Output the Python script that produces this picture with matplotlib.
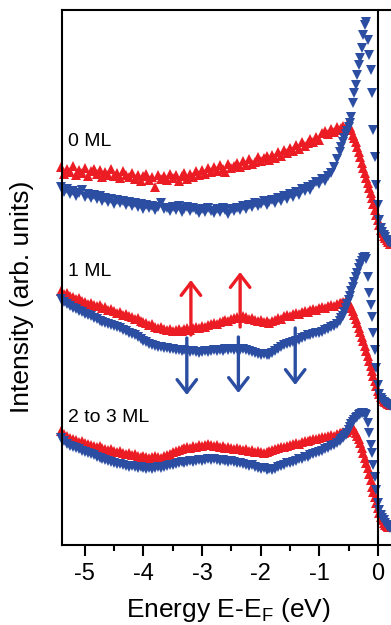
import numpy as np
import matplotlib
matplotlib.use("Agg")
import matplotlib.pyplot as plt

plt.rcParams['font.family'] = ['Liberation Sans', 'DejaVu Sans']
plt.rcParams['axes.unicode_minus'] = False

RED = '#EC1C24'
BLUE = '#2B4EA2'

# energy grid (eV): 0.05 steps far from E_F, 0.025 steps near the peak
energy = np.round(np.r_[np.arange(-5.40, -0.64, 0.05), np.arange(-0.625, 0.201, 0.025)], 3)

# intensities, arb. units (red = up triangles, blue = down triangles)
ml0_red = [378, 371, 376, 373, 379, 370, 375, 372, 377, 369, 374, 376,
           371, 375, 368, 373, 370, 376, 369, 372, 367, 374, 370, 368,
           372, 366, 370, 364, 369, 371, 365, 368, 358, 370, 366, 369,
           365, 371, 367, 370, 364, 369, 372, 366, 371, 368, 374, 370,
           375, 371, 377, 373, 378, 374, 380, 376, 373, 381, 377, 379,
           382, 378, 384, 380, 386, 381, 383, 388, 384, 387, 389, 385,
           390, 387, 393, 389, 395, 392, 397, 394, 400, 396, 403, 399,
           402, 406, 403, 408, 405, 412, 414, 411, 416, 413, 418, 415,
           417, 419, 416, 418, 420, 417, 418, 415, 410, 407, 403, 398,
           393, 388, 382, 377, 372, 367, 362, 357, 352, 347, 341, 335,
           330, 325, 320, 315, 312, 309, 307, 305, 303, 301]
ml0_blue = [358, 353, 356, 351, 354, 349, 352, 355, 348, 351, 347, 350,
            346, 349, 344, 347, 343, 346, 341, 345, 342, 344, 340, 343,
            339, 342, 338, 341, 336, 340, 337, 339, 335, 338, 342, 336,
            337, 334, 338, 335, 339, 333, 336, 338, 334, 337, 335, 332,
            336, 333, 337, 334, 332, 336, 333, 337, 335, 331, 336, 334,
            337, 335, 339, 336, 340, 338, 342, 339, 341, 344, 340, 343,
            345, 342, 347, 344, 349, 346, 351, 348, 353, 350, 356, 354,
            358, 355, 360, 363, 361, 366, 364, 369, 372, 378, 386, 393,
            398, 403, 407, 411, 414, 418, 422, 428, 442, 452, 460, 470,
            480, 487, 497, 510, 520, 523, 505, 490, 475, 452, 415, 388,
            360, 340, 325, 317, 313, 310, 308, 305, 303, 302]
ml1_red = [254, 251, 252, 249, 248, 246, 247, 244, 243, 241, 242, 240,
           239, 240, 237, 238, 235, 236, 234, 232, 233, 230, 231, 229,
           228, 226, 227, 224, 223, 222, 220, 221, 218, 217, 218, 216,
           215, 216, 214, 215, 216, 214, 216, 217, 215, 217, 218, 217,
           219, 218, 220, 221, 222, 221, 223, 224, 225, 224, 226, 227,
           228, 227, 229, 228, 226, 227, 225, 224, 225, 223, 224, 222,
           224, 225, 227, 226, 229, 230, 229, 231, 232, 231, 233, 234,
           233, 235, 236, 235, 237, 238, 237, 239, 240, 239, 241, 242,
           242, 243, 242, 244, 243, 242, 240, 237, 234, 230, 226, 222,
           217, 213, 208, 204, 199, 194, 189, 184, 179, 174, 169, 164,
           159, 154, 151, 148, 146, 144, 143, 142, 141, 140]
ml1_blue = [246, 243, 241, 239, 237, 236, 234, 233, 231, 230, 229, 227,
            226, 224, 223, 222, 221, 220, 219, 218, 217, 215, 214, 212,
            211, 210, 208, 206, 204, 203, 201, 200, 199, 198, 198, 197,
            197, 196, 196, 195, 195, 194, 195, 194, 193, 194, 193, 192,
            193, 194, 193, 194, 195, 194, 195, 194, 196, 195, 196, 195,
            196, 195, 196, 195, 194, 193, 192, 191, 190, 191, 190, 190,
            192, 194, 196, 198, 200, 201, 202, 203, 204, 205, 207, 208,
            210, 210, 211, 212, 212, 213, 215, 216, 218, 219, 221, 224,
            227, 229, 233, 237, 241, 245, 249, 254, 258, 263, 268, 272,
            277, 281, 284, 287, 288, 286, 268, 252, 240, 228, 212, 195,
            177, 160, 151, 147, 145, 143, 142, 141, 140, 139]
ml23_red = [114, 111, 109, 107, 106, 105, 103, 104, 102, 101, 100, 99,
            98, 99, 97, 96, 95, 96, 94, 93, 94, 92, 91, 92,
            90, 91, 89, 88, 89, 88, 87, 88, 89, 88, 87, 89,
            90, 91, 93, 94, 95, 96, 97, 98, 97, 99, 98, 100,
            99, 100, 101, 100, 99, 100, 98, 99, 97, 98, 97, 96,
            97, 96, 95, 96, 94, 95, 93, 94, 93, 92, 93, 94,
            95, 96, 97, 98, 98, 99, 100, 101, 102, 101, 103, 104,
            104, 105, 106, 106, 107, 108, 108, 109, 110, 109, 111, 112,
            112, 113, 112, 114, 113, 115, 115, 116, 117, 115, 112, 109,
            106, 102, 97, 92, 87, 82, 77, 71, 65, 58, 53, 48,
            42, 37, 32, 28, 25, 22, 20, 19, 18, 18]
ml23_blue = [107, 104, 101, 99, 98, 97, 96, 94, 93, 92, 91, 90,
             88, 87, 86, 85, 84, 83, 82, 81, 81, 80, 79, 78,
             79, 78, 77, 78, 77, 76, 77, 76, 77, 78, 77, 78,
             79, 80, 80, 81, 82, 83, 82, 83, 84, 83, 84, 85,
             84, 85, 86, 85, 86, 85, 84, 85, 84, 83, 84, 83,
             82, 82, 81, 80, 79, 80, 78, 77, 76, 77, 75, 76,
             75, 76, 78, 79, 80, 82, 82, 83, 84, 86, 86, 88,
             88, 90, 91, 92, 93, 94, 96, 97, 99, 100, 102, 104,
             106, 107, 109, 110, 112, 115, 118, 121, 123, 125, 127, 128,
             130, 131, 132, 132, 131, 130, 122, 112, 100, 92, 80, 68,
             55, 42, 35, 30, 27, 25, 22, 20, 18, 17]

labels = ['0 ML', '1 ML', '2 to 3 ML']
label_y = [403, 273, 128]

# arrows: (energy, start, end)
up_arrows = [(-3.19, 210, 265), (-2.35, 218, 273)]
down_arrows = [(-3.26, 207, 150), (-2.38, 208, 152), (-1.41, 217, 160)]

fig = plt.figure(figsize=(3.91, 6.25), dpi=100)
ax = fig.add_axes([62 / 391, 80 / 625, 351 / 391, 535 / 625])

for red, blue in [(ml0_red, ml0_blue), (ml1_red, ml1_blue), (ml23_red, ml23_blue)]:
    ax.plot(energy, red, ls='none', marker='^', ms=7.2, mew=0, color=RED, clip_on=False)
    ax.plot(energy, blue, ls='none', marker='v', ms=7.2, mew=0, color=BLUE, clip_on=False)

for lab, y in zip(labels, label_y):
    ax.text(-5.28, y, lab, fontsize=14, ha='left', va='center')

for x, y0, y1 in up_arrows:
    ax.annotate('', xy=(x, y1), xytext=(x, y0),
                arrowprops=dict(arrowstyle='->,head_length=0.65,head_width=0.5',
                                color=RED, lw=2.4, mutation_scale=14, shrinkA=0, shrinkB=0))
for x, y0, y1 in down_arrows:
    ax.annotate('', xy=(x, y1), xytext=(x, y0),
                arrowprops=dict(arrowstyle='->,head_length=0.65,head_width=0.5',
                                color=BLUE, lw=2.4, mutation_scale=14, shrinkA=0, shrinkB=0))

ax.axvline(0, color='black', lw=1.5)
ax.set_xlim(-5.39, 0.6)
ax.set_ylim(0, 535)
ax.set_xticks([-5, -4, -3, -2, -1, 0])
ax.set_xticks(np.arange(-5, 0.6, 0.5), minor=True)
ax.set_yticks([])
ax.tick_params(axis='x', which='major', direction='out', length=8, width=1.5, labelsize=17, pad=5)
ax.tick_params(axis='x', which='minor', direction='out', length=4, width=1.5)
for s in ax.spines.values():
    s.set_linewidth(1.5)

fig.text(228 / 391, 1 - 617 / 625, r'Energy E-E$_\mathregular{F}$ (eV)', fontsize=19,
         ha='center', va='baseline')
fig.text(22 / 391, 1 - 297 / 625, 'Intensity (arb. units)', fontsize=19,
         rotation=90, ha='center', va='center')

fig.savefig('out.png', dpi=100)
